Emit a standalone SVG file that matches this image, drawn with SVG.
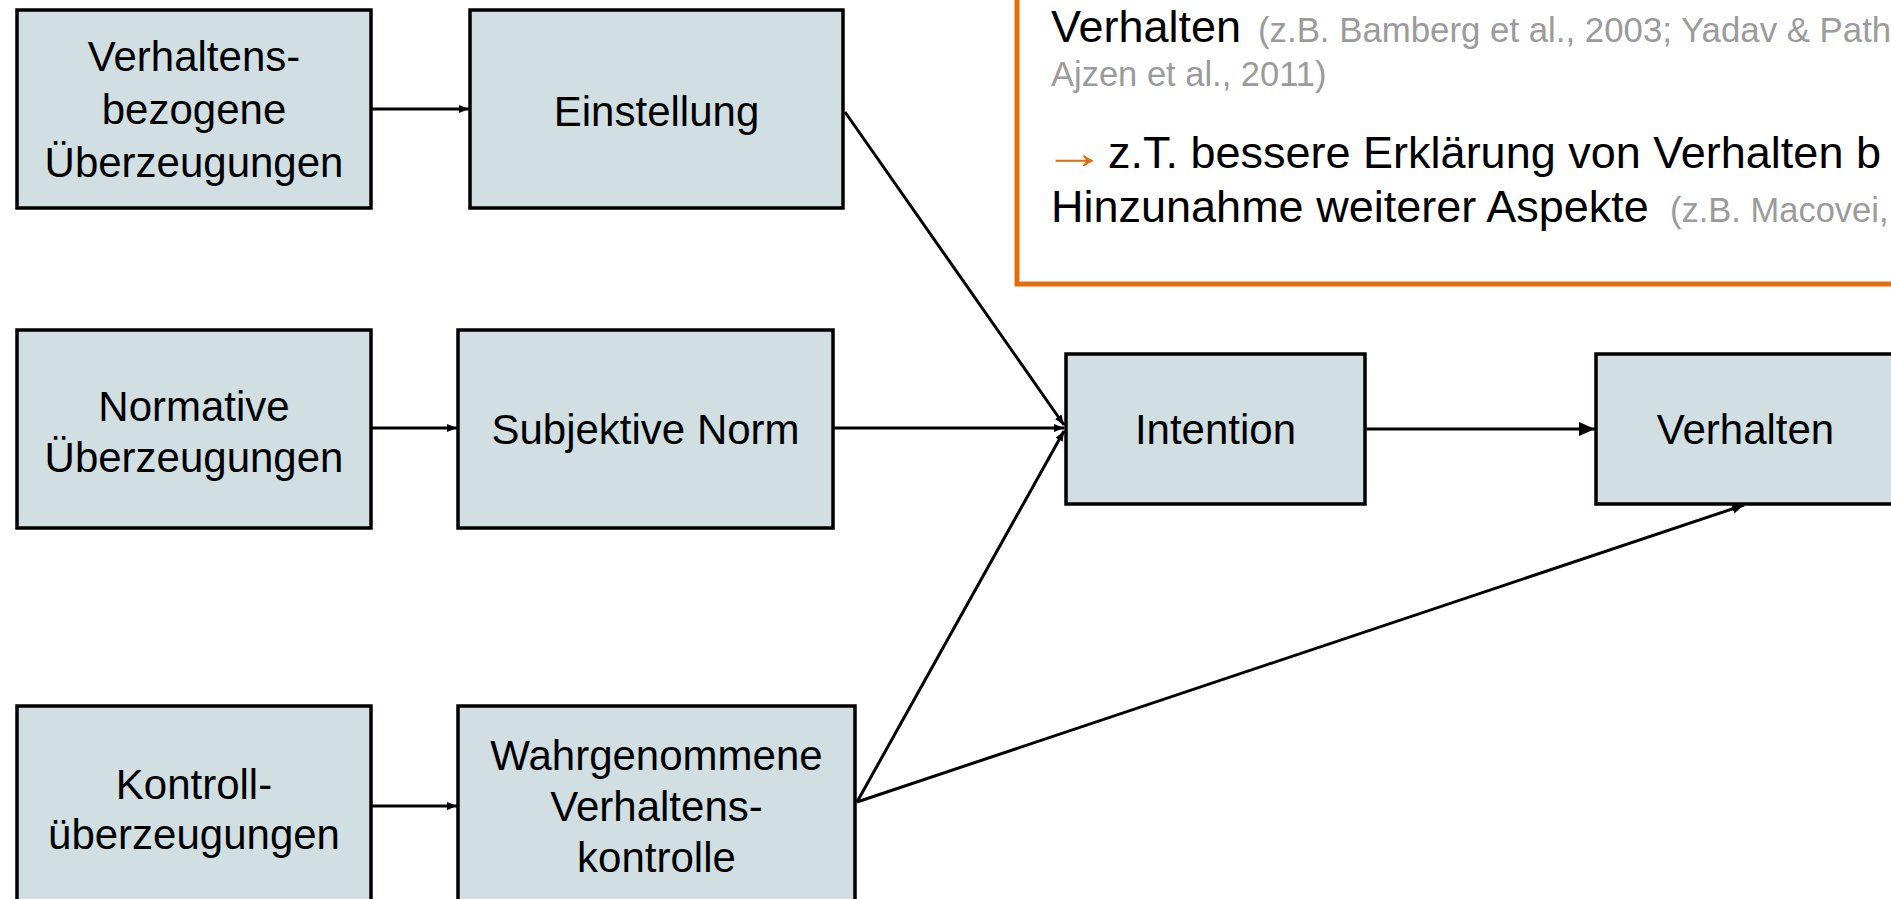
<svg xmlns="http://www.w3.org/2000/svg" width="1891" height="899" viewBox="0 0 1891 899">
<style>
.box{fill:#D1DFE3;stroke:#000;stroke-width:3.5}
.lbl{font-family:"Liberation Sans",Arial,sans-serif;font-size:42px;fill:#000;text-anchor:middle}
.con{stroke:#000;stroke-width:3;fill:none}
.t{font-family:"Liberation Sans",Arial,sans-serif;font-size:45px;fill:#000}
.g{font-size:34.5px;fill:#9B9B9B}
.o{fill:#E46C0A}
</style>
<defs>
<marker id="sm" markerUnits="userSpaceOnUse" markerWidth="12" markerHeight="10" refX="10" refY="4" orient="auto"><path d="M0,0 L10,4 L0,8 z" fill="#000"/></marker>
<marker id="lg" markerUnits="userSpaceOnUse" markerWidth="18" markerHeight="16" refX="16" refY="7" orient="auto"><path d="M0,0 L16,7 L0,14 z" fill="#000"/></marker>
<marker id="md" markerUnits="userSpaceOnUse" markerWidth="14" markerHeight="12" refX="12" refY="5" orient="auto"><path d="M0,0 L12,5 L0,10 z" fill="#000"/></marker>
</defs>
<rect width="1891" height="899" fill="#fff"/>

<g id="note">
<rect x="1017" y="-20" width="900" height="304" fill="#fff" stroke="#E46C0A" stroke-width="5"/>
<text class="t" x="1051" y="42">Verhalten<tspan class="g" x="1258" style="font-size:34.8px">(z.B. Bamberg et al., 2003; Yadav &amp; Path</tspan></text>
<text class="t g" x="1051" y="86">Ajzen et al., 2011)</text>
<text class="t o" transform="translate(1043 168) scale(1.4 1)" x="0" y="0">→</text>
<text class="t" x="1108" y="168">z.T. bessere Erklärung von Verhalten b</text>
<text class="t" x="1051" y="222">Hinzunahme weiterer Aspekte<tspan class="g" x="1670">(z.B. Macovei,</tspan></text>
</g>

<g id="connectors">
<line class="con" x1="371" y1="109" x2="469" y2="109" marker-end="url(#sm)"/>
<line class="con" x1="371" y1="428" x2="457" y2="428" marker-end="url(#sm)"/>
<line class="con" x1="371" y1="806" x2="457" y2="806" marker-end="url(#sm)"/>
<line class="con" x1="845" y1="112" x2="1064" y2="425" marker-end="url(#sm)"/>
<line class="con" x1="833" y1="428" x2="1064" y2="428" marker-end="url(#sm)"/>
<line class="con" x1="857" y1="802" x2="1064" y2="431" marker-end="url(#sm)"/>
<line class="con" x1="1365" y1="429" x2="1595" y2="429" marker-end="url(#lg)"/>
<line class="con" x1="857" y1="802" x2="1744" y2="505" marker-end="url(#md)"/>
</g>

<g id="n-verhaltensbezogene">
<rect class="box" x="17" y="10" width="354" height="198"/>
<text class="lbl" x="194" y="71">Verhaltens-</text>
<text class="lbl" x="194" y="124">bezogene</text>
<text class="lbl" x="194" y="177">Überzeugungen</text>
</g>
<g id="n-einstellung">
<rect class="box" x="470" y="10" width="373" height="198"/>
<text class="lbl" x="656.5" y="126">Einstellung</text>
</g>
<g id="n-normative">
<rect class="box" x="17" y="330" width="354" height="198"/>
<text class="lbl" x="194" y="421">Normative</text>
<text class="lbl" x="194" y="472">Überzeugungen</text>
</g>
<g id="n-subjektive">
<rect class="box" x="458" y="330" width="375" height="198"/>
<text class="lbl" x="645.5" y="444">Subjektive Norm</text>
</g>
<g id="n-kontroll">
<rect class="box" x="17" y="706" width="354" height="220"/>
<text class="lbl" x="194" y="799">Kontroll-</text>
<text class="lbl" x="194" y="849">überzeugungen</text>
</g>
<g id="n-wahrgenommene">
<rect class="box" x="458" y="706" width="397" height="220"/>
<text class="lbl" x="656.5" y="770">Wahrgenommene</text>
<text class="lbl" x="656.5" y="821">Verhaltens-</text>
<text class="lbl" x="656.5" y="872">kontrolle</text>
</g>
<g id="n-intention">
<rect class="box" x="1066" y="354" width="299" height="150"/>
<text class="lbl" x="1215.5" y="444">Intention</text>
</g>
<g id="n-verhalten">
<rect class="box" x="1596" y="354" width="299" height="150"/>
<text class="lbl" x="1745.5" y="444">Verhalten</text>
</g>
</svg>
